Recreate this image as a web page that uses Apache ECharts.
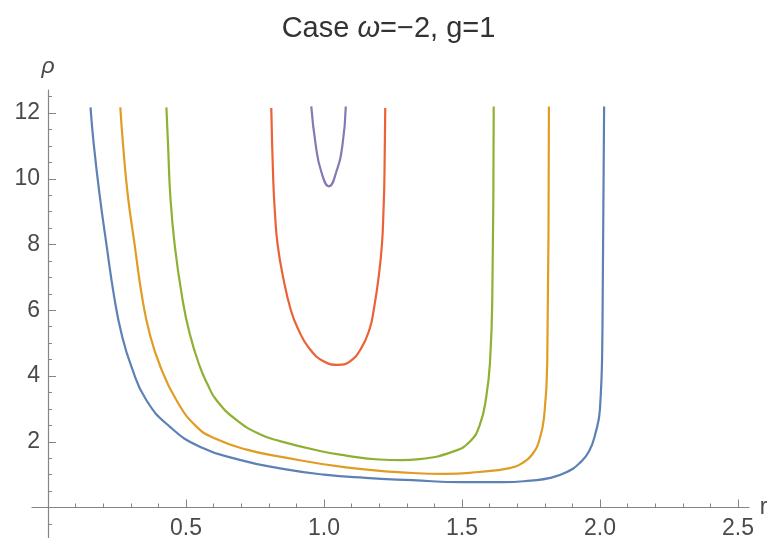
<!DOCTYPE html>
<html>
<head>
<meta charset="utf-8">
<script src="https://cdn.jsdelivr.net/npm/echarts@6/dist/echarts.min.js"></script>
<style>
  html, body { margin: 0; padding: 0; background: #fff; }
  #chart { width: 777px; height: 545px; }
</style>
</head>
<body>
<div id="chart"></div>
<script>
// tick positions
const rMajorTicks = [0.5, 1.0, 1.5, 2.0, 2.5]
const rMinorTicks = [0.1, 0.2, 0.3, 0.4, 0.6, 0.7, 0.8, 0.9, 1.1, 1.2, 1.3, 1.4, 1.6, 1.7, 1.8, 1.9, 2.1, 2.2, 2.3, 2.4]
const rTickLabels = ['0.5', '1.0', '1.5', '2.0', '2.5']
const rhoMajorTicks = [2, 4, 6, 8, 10, 12]
const rhoMinorTicks = [0.5, 1, 1.5, 2.5, 3, 3.5, 4.5, 5, 5.5, 6.5, 7, 7.5, 8.5, 9, 9.5, 10.5, 11, 11.5, 12.5]
const rhoNegTicks = [-0.5]

// curves, [r, rho]
const curveBlue = [
  [0.154, 12.17], [0.166, 11.03], [0.187, 9.51], [0.212, 7.99], [0.24, 6.4], [0.266, 5.3],
  [0.302, 4.29], [0.356, 3.27], [0.441, 2.46], [0.55, 1.85], [0.695, 1.45], [0.84, 1.19],
  [1.0, 1.0], [1.15, 0.9], [1.32, 0.83], [1.5, 0.77], [1.65, 0.77], [1.75, 0.82],
  [1.82, 0.9], [1.88, 1.08], [1.926, 1.35], [1.96, 1.7], [1.985, 2.3], [2.0, 3.0],
  [2.009, 5.4], [2.015, 12.2],
]
const curveOrange = [
  [0.262, 12.17], [0.272, 11.03], [0.289, 9.51], [0.314, 7.99], [0.341, 6.4], [0.368, 5.3],
  [0.407, 4.29], [0.465, 3.27], [0.538, 2.46], [0.61, 2.08], [0.72, 1.76], [0.84, 1.55],
  [1.08, 1.22], [1.32, 1.05], [1.44, 1.02], [1.56, 1.08], [1.673, 1.2], [1.72, 1.36],
  [1.755, 1.62], [1.782, 2.1], [1.798, 2.8], [1.809, 4.4], [1.815, 12.2],
]
const curveGreen = [
  [0.429, 12.17], [0.435, 11.03], [0.443, 9.51], [0.459, 7.99], [0.486, 6.4], [0.513, 5.3],
  [0.55, 4.29], [0.578, 3.75], [0.61, 3.27], [0.68, 2.68], [0.77, 2.22], [0.84, 2.02],
  [0.985, 1.72], [1.08, 1.58], [1.2, 1.46], [1.28, 1.44], [1.346, 1.47], [1.467, 1.7],
  [1.528, 2.0], [1.564, 2.5], [1.588, 3.37], [1.602, 4.5], [1.61, 6.5], [1.615, 12.2],
]
const curveRed = [
  [0.809, 12.15], [0.816, 10], [0.822, 9], [0.832, 8], [0.852, 7], [0.88, 6], [0.905, 5.45],
  [0.946, 4.85], [1.0, 4.44], [1.05, 4.34], [1.093, 4.44], [1.135, 4.85], [1.166, 5.45],
  [1.18, 6], [1.198, 7], [1.21, 8], [1.2155, 9], [1.219, 10], [1.222, 12.15],
]
const curvePurple = [
  [0.954, 12.2], [0.97, 11.03], [0.99, 10.22], [1.018, 9.77], [1.045, 10.22], [1.067, 11.03],
  [1.079, 12.2],
]

const font = '"Liberation Sans", Arial, sans-serif'
const axisGray = '#858585'
const textGray = '#4a4a4a'

function curve(data, color) {
  return {
    type: 'line',
    data: data,
    xAxisIndex: 0,
    yAxisIndex: 0,
    showSymbol: false,
    smooth: 0.5,
    lineStyle: { color: color, width: 2.2 },
    itemStyle: { color: color },
    clip: true,
  }
}

const noSplit = { show: false }
const chart = echarts.init(document.getElementById('chart'))
chart.setOption({
  animation: false,
  backgroundColor: '#fff',
  title: {
    text: '{n|Case }{i|ω}{n|=−2, g=1}',
    left: 'center',
    top: 9,
    textStyle: {
      fontWeight: 'normal',
      rich: {
        n: { fontFamily: font, fontSize: 29, color: '#333', fontWeight: 'normal' },
        i: { fontFamily: font, fontSize: 29, color: '#333', fontWeight: 'normal', fontStyle: 'italic' },
      },
    },
  },
  // main plot area starts at the origin; the small grid holds the axis stubs below/left of it
  grid: [
    { left: 48, right: 28, top: 90, bottom: 37.5, containLabel: false, outerBoundsMode: 'none' },
    { left: 32, width: 16, top: 507.5, height: 30, containLabel: false, outerBoundsMode: 'none' },
  ],
  xAxis: [
    {
      type: 'value', gridIndex: 0, min: 0, max: 2.54, position: 'bottom',
      name: 'r', nameLocation: 'end', nameGap: 8,
      nameTextStyle: { fontFamily: font, fontSize: 23, color: textGray },
      axisLine: { onZero: false, lineStyle: { color: axisGray, width: 1.2 } },
      axisTick: { inside: true, length: 8, customValues: rMajorTicks, lineStyle: { color: axisGray } },
      axisLabel: {
        customValues: rMajorTicks,
        formatter: (v) => rTickLabels[rMajorTicks.indexOf(Number(v))] ?? String(v),
        fontFamily: font, fontSize: 23, color: textGray, margin: 10,
      },
      splitLine: noSplit,
    },
    {
      type: 'value', gridIndex: 0, min: 0, max: 2.54, position: 'bottom',
      axisLine: { show: false, onZero: false },
      axisTick: { inside: true, length: 4, customValues: rMinorTicks, lineStyle: { color: axisGray } },
      axisLabel: { show: false },
      splitLine: noSplit,
    },
    {
      type: 'value', gridIndex: 1, min: -0.06, max: 0, position: 'top',
      axisLine: { onZero: false, lineStyle: { color: axisGray, width: 1.2 } },
      axisTick: { show: false },
      axisLabel: { show: false },
      splitLine: noSplit,
    },
  ],
  yAxis: [
    {
      type: 'value', gridIndex: 0, min: 0, max: 12.7, position: 'left',
      name: 'ρ', nameLocation: 'end', nameGap: 12,
      nameTextStyle: { fontFamily: font, fontSize: 23, color: textGray, fontStyle: 'italic' },
      axisLine: { onZero: false, lineStyle: { color: axisGray, width: 1.2 } },
      axisTick: { inside: true, length: 8, customValues: rhoMajorTicks, lineStyle: { color: axisGray } },
      axisLabel: { customValues: rhoMajorTicks, fontFamily: font, fontSize: 23, color: textGray, margin: 8 },
      splitLine: noSplit,
    },
    {
      type: 'value', gridIndex: 0, min: 0, max: 12.7, position: 'left',
      axisLine: { show: false, onZero: false },
      axisTick: { inside: true, length: 4, customValues: rhoMinorTicks, lineStyle: { color: axisGray } },
      axisLabel: { show: false },
      splitLine: noSplit,
    },
    {
      type: 'value', gridIndex: 1, min: -0.9, max: 0, position: 'right',
      axisLine: { onZero: false, lineStyle: { color: axisGray, width: 1.2 } },
      axisTick: { inside: false, length: 4, customValues: rhoNegTicks, lineStyle: { color: axisGray } },
      axisLabel: { show: false },
      splitLine: noSplit,
    },
  ],
  series: [
    curve(curveBlue, '#5e81b5'),
    curve(curveOrange, '#e19c24'),
    curve(curveGreen, '#8fb032'),
    curve(curveRed, '#eb6235'),
    curve(curvePurple, '#8778b3'),
  ],
})
</script>
</body>
</html>
